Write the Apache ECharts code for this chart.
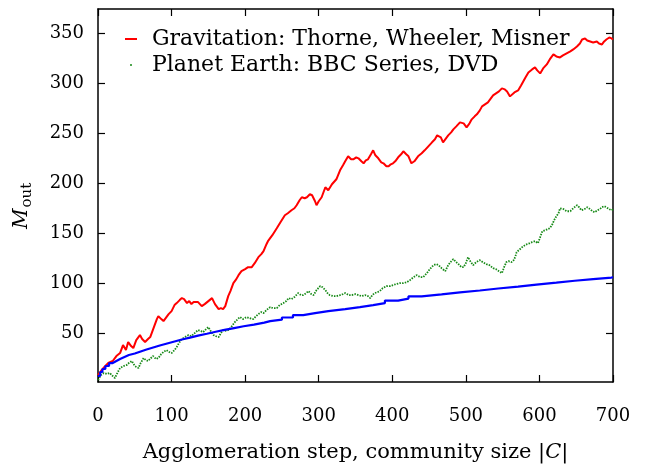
<!DOCTYPE html>
<html>
<head>
<meta charset="utf-8">
<script src="https://cdn.jsdelivr.net/npm/echarts@6/dist/echarts.min.js"></script>
<style>
html,body{margin:0;padding:0;background:#fff;}
#chart{width:647px;height:468px;}
</style>
</head>
<body>
<div id="chart"></div>
<script>
// ---- data ----
var seriesNames = ['Gravitation: Thorne, Wheeler, Misner', 'Planet Earth: BBC Series, DVD'];
var xTicks = [0, 100, 200, 300, 400, 500, 600, 700];
var yTicks = [50, 100, 150, 200, 250, 300, 350];

var redX = [0,5,10,14,20,25,30,34,38,41,45,48,52,57,60,64,68,71,76,80,82,86,89,93,96,100,104,107,111,114,117,121,124,127,130,132,136,141,145,150,155,159,164,167,170,173,177,180,184,188,191,195,200,204,209,213,218,222,225,229,231,237,243,248,254,258,263,267,270,274,277,281,284,288,291,293,295,297,300,304,309,313,318,324,329,333,336,340,344,347,351,354,358,361,364,367,371,374,377,381,385,388,392,395,398,401,404,408,412,415,419,422,426,430,435,440,444,449,454,458,461,463,466,469,472,476,480,483,487,492,497,501,505,508,512,515,519,522,526,530,533,537,541,545,549,553,556,558,560,562,566,571,575,578,581,585,590,594,597,601,605,610,614,619,623,628,632,637,642,646,651,655,658,662,665,669,673,678,681,685,688,691,695,698,700];
var redY = [8,13,17,20,22,27,30,38,33,41,37,35,43,48,44,41,44,46,56,64,67,64,62,66,69,72,78,80,83,85,84,80,82,79,81,80,81,77,79,82,85,79,74,75,74,77,87,92,100,104,108,112,114,116,116,120,126,129,132,139,142,148,155,161,168,170,173,175,178,183,186,185,186,189,188,186,182,178,182,186,196,193,199,204,213,218,222,227,224,224,226,225,222,220,223,224,229,233,228,225,221,220,217,217,219,220,222,226,229,232,229,227,220,222,227,230,233,237,241,244,248,250,246,241,244,248,251,254,257,261,260,256,260,264,267,269,273,277,279,281,284,288,290,292,295,294,292,290,287,288,291,293,298,302,306,311,314,316,313,310,315,319,324,329,327,326,328,330,332,334,337,340,344,345,343,342,341,342,340,339,342,344,346,345,344];

var greenX = [0,4,8,12,16,20,23,27,30,35,39,42,46,50,55,58,62,65,68,72,75,79,82,86,89,93,97,100,104,107,110,114,118,123,127,130,133,136,140,143,147,150,154,157,160,164,167,170,175,179,183,186,190,193,197,202,206,211,215,218,222,225,229,234,238,243,247,252,256,259,263,267,272,276,279,283,286,290,293,297,302,305,309,312,315,320,324,329,333,336,341,345,350,354,358,363,367,370,373,376,380,383,387,392,397,401,405,410,415,420,424,429,433,438,442,447,451,456,460,463,467,472,476,479,483,487,490,494,497,500,503,506,510,514,519,523,528,532,537,541,545,549,552,555,558,562,565,567,569,571,575,578,583,587,590,594,598,601,604,608,611,614,617,620,623,626,628,630,633,637,642,646,651,654,657,661,665,669,672,675,679,682,685,688,691,695,698,700];
var greenY = [3,8,10,9,10,7,5,11,15,17,18,20,22,17,15,20,25,23,22,25,27,24,25,29,31,33,31,30,33,36,40,44,46,48,47,49,51,53,52,51,54,56,51,48,47,46,50,53,52,54,58,61,64,66,64,66,65,64,67,69,71,70,73,76,75,75,78,80,82,85,84,86,90,88,88,90,92,89,88,93,97,96,93,90,88,87,87,88,89,90,88,88,89,88,87,88,87,85,88,90,91,92,95,97,97,98,99,100,100,101,103,106,108,106,106,110,114,118,119,118,115,112,118,121,124,121,119,116,116,120,126,122,118,121,123,121,119,118,115,114,112,110,116,121,122,121,123,126,131,132,135,137,139,140,141,142,140,146,152,153,154,155,158,163,167,170,175,177,174,172,172,175,178,176,173,174,176,174,172,171,173,174,176,177,176,174,173,174];

// blue staircase: level blueY[i] holds from blueX[i] up to blueX[i+1]
var blueX = [0,3,6,10,15,20,25,30,36,42,50,58,66,75,84,94,104,114,125,136,148,160,172,185,198,212,226,234,250,265,279,295,313,336,356,374,390,408,422,440,467,492,519,544,571,596,623,648,673,698,700];
var blueY = [7,11,14,17,20,22,24,26,28,29.5,31.5,33.5,35.5,37.5,39.5,41.5,43.5,45.5,47.5,49.3,51.3,53.2,55,56.8,58.5,60.5,62,63.4,65.6,68,70,72,74,76,78,80,82.5,84.5,86.8,88.7,90.7,92.6,94.6,96.5,98.5,100.5,102.4,104,105.6,106,106];

function pairs(xs, ys){ var out=[]; for(var i=0;i<xs.length;i++){ out.push([xs[i], ys[i]]); } return out; }
function stairs(xs, ys){
  var out=[[xs[0], ys[0]]];
  for(var i=1;i<xs.length;i++){ out.push([xs[i], ys[i-1]]); out.push([xs[i], ys[i]]); }
  return out;
}

var FONT = 'DejaVu Serif';
var mFont = 'italic 20px "DejaVu Serif"';
var subFont = '15px "DejaVu Serif"';
var ctx = document.createElement('canvas').getContext('2d');
ctx.font = mFont;
var mWidth = ctx.measureText('M').width;

var chart = echarts.init(document.getElementById('chart'), null, {renderer:'canvas'});

var axisLineStyle = {color:'#000', width:1.5};
var tickStyle = {color:'#000', width:1.2};
var yLabelStart = 229;
var option = {
  animation:false,
  backgroundColor:'#fff',
  textStyle:{fontFamily:FONT},
  grid:{left:98, right:34, top:9, bottom:77, containLabel:false},
  legend:{
    orient:'vertical', left:125, top:27, padding:0,
    itemWidth:12, itemHeight:2, itemGap:2,
    selectedMode:false,
    textStyle:{fontFamily:FONT, fontSize:22, color:'#000', lineHeight:24, padding:[0,0,0,10]},
    data:[{name:seriesNames[0], icon:'rect'},{name:seriesNames[1], icon:'circle'}]
  },
  xAxis:[{
    type:'value', min:xTicks[0], max:xTicks[xTicks.length-1], interval:100, position:'bottom',
    axisLine:{show:true, lineStyle:axisLineStyle, onZero:false},
    axisTick:{show:true, inside:true, length:7, lineStyle:tickStyle},
    axisLabel:{show:true, color:'#000', fontFamily:FONT, fontSize:18, margin:25},
    splitLine:{show:false},
    name:'{n|Agglomeration step, community size |}{c|C}{n||}', nameLocation:'middle', nameGap:60,
    nameTextStyle:{fontFamily:FONT, fontSize:21, color:'#000', verticalAlign:'top',
      rich:{n:{fontFamily:FONT, fontSize:21, color:'#000'}, c:{fontFamily:FONT, fontSize:21, fontStyle:'italic', color:'#000'}}}
  },{
    type:'value', min:xTicks[0], max:xTicks[xTicks.length-1], interval:100, position:'top',
    axisLine:{show:true, lineStyle:axisLineStyle, onZero:false},
    axisTick:{show:true, inside:true, length:7, lineStyle:tickStyle},
    axisLabel:{show:false}, splitLine:{show:false}
  }],
  yAxis:[{
    type:'value', min:1, max:374.5, position:'left',
    axisLine:{show:true, lineStyle:axisLineStyle, onZero:false},
    axisTick:{show:true, inside:true, length:7, lineStyle:tickStyle, customValues:yTicks},
    axisLabel:{show:true, color:'#000', fontFamily:FONT, fontSize:18, margin:14, customValues:yTicks},
    splitLine:{show:false}
  },{
    type:'value', min:1, max:374.5, position:'right',
    axisLine:{show:true, lineStyle:axisLineStyle, onZero:false},
    axisTick:{show:true, inside:true, length:7, lineStyle:tickStyle, customValues:yTicks},
    axisLabel:{show:false}, splitLine:{show:false}
  }],
  graphic:[
    {type:'text', x:22, y:yLabelStart, rotation:Math.PI/2,
     style:{text:'M', font:mFont, fill:'#000', textAlign:'left', textVerticalAlign:'middle'}},
    {type:'text', x:27, y:yLabelStart - mWidth - 1, rotation:Math.PI/2,
     style:{text:'out', font:subFont, fill:'#000', textAlign:'left', textVerticalAlign:'middle'}}
  ],
  series:[
    {name:seriesNames[0], type:'line', data:pairs(redX, redY), showSymbol:false, symbol:'none',
     lineStyle:{color:'#ff0000', width:2}, itemStyle:{color:'#ff0000'}, z:2},
    {name:seriesNames[1], type:'line', data:pairs(greenX, greenY), showSymbol:false, symbol:'none',
     lineStyle:{color:'#178a17', width:1.8, type:[1.5,1.2]}, itemStyle:{color:'#178a17'}, z:3},
    {name:'baseline', type:'line', data:stairs(blueX, blueY), showSymbol:false, symbol:'none',
     lineStyle:{color:'#0000ff', width:2.2}, itemStyle:{color:'#0000ff'}, z:4}
  ]
};
chart.setOption(option);
</script>
</body>
</html>
